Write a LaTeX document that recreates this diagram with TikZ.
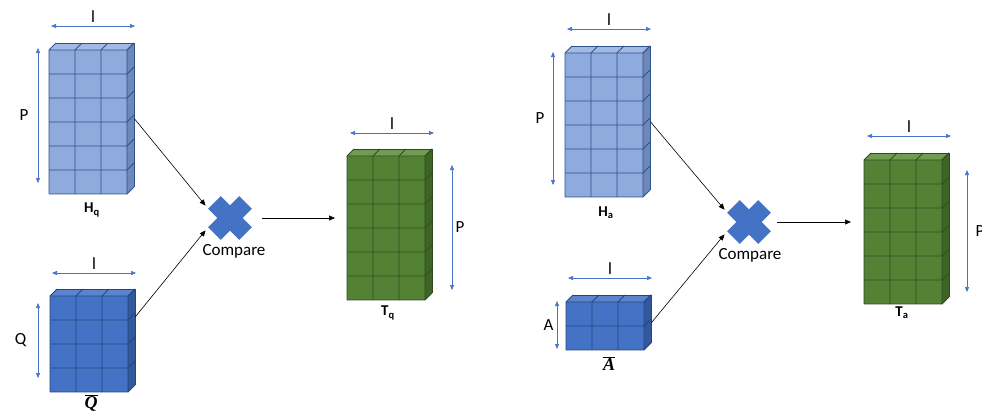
\documentclass[tikz,border=0pt]{standalone}
\usepackage{fontspec}
\setmainfont{Carlito}
\newfontfamily\barfont{Liberation Serif}
\usetikzlibrary{arrows.meta}

\definecolor{lbFront}{RGB}{143,170,220}
\definecolor{lbSide}{RGB}{110,136,186}
\definecolor{lbTop}{RGB}{162,185,228}
\definecolor{lbLine}{RGB}{47,82,143}
\definecolor{dbFront}{RGB}{68,114,196}
\definecolor{dbSide}{RGB}{50,88,158}
\definecolor{dbTop}{RGB}{92,132,206}
\definecolor{dbLine}{RGB}{38,68,128}
\definecolor{gnFront}{RGB}{84,130,53}
\definecolor{gnSide}{RGB}{62,100,38}
\definecolor{gnTop}{RGB}{112,156,82}
\definecolor{gnLine}{RGB}{45,75,28}
\definecolor{dimColor}{RGB}{68,114,196}
\definecolor{cmpColor}{RGB}{68,114,196}

\newcommand{\gridblock}[6]{%
    \fill[#6Front] (#2,#3) rectangle ++({26*#4},{24*#5});
    \fill[#6Side] ({#2+26*#4},#3) -- ++(7,-7) -- ++(0,{24*#5}) -- ++(-7,7) -- cycle;
    \fill[#6Top] (#2,#3) -- ++(7,-7) -- ++({26*#4},0) -- ++(-7,7) -- cycle;
    \foreach \i in {0,...,#4}
        \draw[#6Line, line width=0.8pt] ({#2+26*\i},{#3+24*#5}) -- ({#2+26*\i},#3) -- ++(7,-7);
    \foreach \j in {0,...,#5}
        \draw[#6Line, line width=0.8pt] (#2,{#3+24*\j}) -- ++({26*#4},0) -- ++(7,-7);
    \draw[#6Line, line width=0.8pt] ({#2+7},{#3-7}) -- ++({26*#4},0) -- ++(0,{24*#5});
    \node[inner sep=0, minimum width={26*#4+7}, minimum height={24*#5+7}, anchor=north west] (#1) at (#2,{#3-7}) {};
}

\begin{document}
\begin{tikzpicture}[x=1pt, y=-1pt]
            \tikzset{lbl/.style={inner sep=0.333em, text=black, font=\fontsize{17}{20}\selectfont},
                     blockname/.style={font=\fontsize{15}{17}\selectfont\bfseries},
                     barname/.style={font=\fontsize{18}{20}\selectfont\barfont\bfseries\itshape},
                     dimline/.style={dimColor, line width=0.6pt, {Triangle[length=5pt,width=4pt]}-{Triangle[length=5pt,width=4pt]}},
                     flow/.style={black, line width=0.6pt, -{Triangle[length=6pt,width=5pt]}},
                     cmpmark/.style={minimum size=46, inner sep=0, path picture={
                         \fill[cmpColor, shift={(path picture bounding box.center)}]
                             (-9.2,-21.9) -- (0,-12.7) -- (9.2,-21.9) -- (21.9,-9.2) -- (12.7,0) -- (21.9,9.2)
                             -- (9.2,21.9) -- (0,12.7) -- (-9.2,21.9) -- (-21.9,9.2) -- (-12.7,0) -- (-21.9,-9.2) -- cycle;}}}

            \useasboundingbox (0,0) rectangle (982,416);

            \gridblock{hq}{49}{50}{3}{6}{lb}
            \gridblock{qbar}{50}{296}{3}{4}{db}
            \gridblock{tq}{347}{156}{3}{6}{gn}
            \gridblock{ha}{565}{53}{3}{6}{lb}
            \gridblock{abar}{566}{302}{3}{2}{db}
            \gridblock{ta}{864}{160}{3}{6}{gn}

            \draw[dimline] (51,26) -- node[lbl, above] {l} (135,26);
            \draw[dimline] (38,48) -- node[lbl, left=6pt] {P} (38,183);
            \draw[dimline] (52,273) -- node[lbl, above] {l} (136,273);
            \draw[dimline] (38,303) -- node[lbl, left=8pt] {Q} (38,378);
            \draw[dimline] (350,133) -- node[lbl, above] {l} (434,133);
            \draw[dimline] (452,165) -- node[lbl, right] {P} (452,290);
            \draw[dimline] (567,29) -- node[lbl, above] {l} (651,29);
            \draw[dimline] (553,52) -- node[lbl, left=5pt] {P} (553,185);
            \draw[dimline] (568,278) -- node[lbl, above] {l} (652,278);
            \draw[dimline] (557,301) -- node[lbl, left] {A} (557,349);
            \draw[dimline] (867,136) -- node[lbl, above] {l} (951,136);
            \draw[dimline] (967,170) -- node[lbl, right=5pt] {P} (967,292);

            \node[blockname] (hqname) at (92,210) {H\textsubscript{q}};
            \node[barname] (qbarname) at (91,403) {$\overline{\mbox{Q}}$};
            \node[blockname] (tqname) at (388,313) {T\textsubscript{q}};
            \node[blockname] (haname) at (606,213) {H\textsubscript{a}};
            \node[barname] (abarname) at (609,364) {$\overline{\mbox{A}}$};
            \node[blockname] (taname) at (902,313) {T\textsubscript{a}};

            \node[cmpmark] (cmpq) at (230,218) {};
            \node[lbl] (cmpqtext) at (234,251) {Compare};
            \node[cmpmark] (cmpa) at (749,222) {};
            \node[lbl] (cmpatext) at (750,255) {Compare};

            \draw[flow, shorten >=2pt] (hq.east) -- (cmpq.155);
            \draw[flow, shorten >=2pt] ([yshift=24pt]qbar.east) -- (cmpq.205);
            \draw[flow, shorten <=9pt, shorten >=12pt] (cmpq.east) -- (cmpq.east -| tq.west);
            \draw[flow, shorten >=2pt] (ha.east) -- (cmpa.155);
            \draw[flow, shorten >=2pt] (abar.east) -- (cmpa.205);
            \draw[flow, shorten <=5pt, shorten >=13pt] (cmpa.east) -- (cmpa.east -| ta.west);
        \end{tikzpicture}
\end{document}
